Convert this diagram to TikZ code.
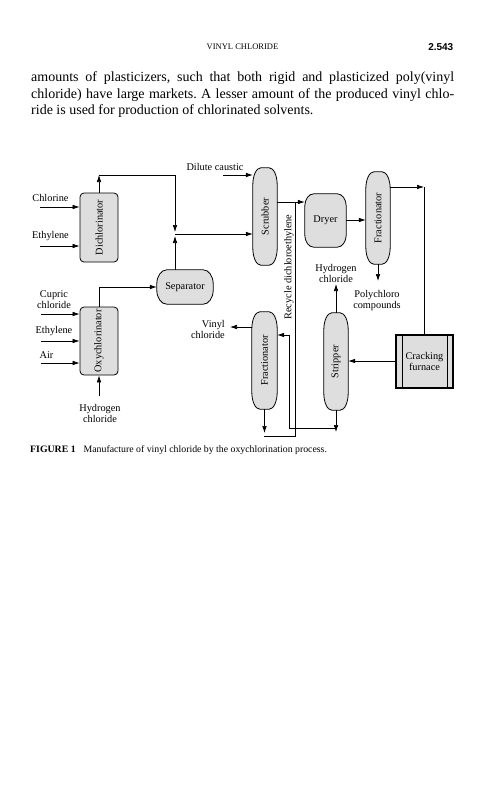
\documentclass[tikz,border=0pt]{standalone}
\usepackage{fontspec}
\setmainfont{Liberation Serif}
\newfontfamily\hsans{Liberation Sans}
\usepackage{graphicx}
\usetikzlibrary{arrows.meta,backgrounds,calc}
\definecolor{unitgray}{RGB}{222,222,222}
\tikzset{
  lbl/.style={font=\fontsize{10.3}{11}\selectfont, inner sep=0pt, align=center},
  arr/.style={-{Latex[length=7pt,width=4.6pt]}},
  flow/.style={line width=0.7pt},
  box/.style={draw, fill=unitgray, line width=0.8pt, rounded corners=4pt, inner sep=0pt, font=\fontsize{10.3}{11}\selectfont},
  vessel/.style={inner sep=0pt, font=\fontsize{10.3}{11}\selectfont, align=center},
  furnace/.style={draw, fill=unitgray, line width=1.3pt, inner sep=0pt, align=center, font=\fontsize{10.3}{11}\selectfont},
}
\newcommand\vesselshape[3]{%
  \filldraw[fill=unitgray, line width=0.8pt] let \p1=(#1.north west), \p2=(#1.south east) in
  (\x1,{\y1-#3}) .. controls (\x1,{\y1-0.45*#3}) and ({\x1+0.45*#2},\y1) .. ({\x1+#2},\y1)
  -- ({\x2-#2},\y1) .. controls ({\x2-0.45*#2},\y1) and (\x2,{\y1-0.45*#3}) .. (\x2,{\y1-#3})
  -- (\x2,{\y2+#3}) .. controls (\x2,{\y2+0.45*#3}) and ({\x2-0.45*#2},\y2) .. ({\x2-#2},\y2)
  -- ({\x1+#2},\y2) .. controls ({\x1+0.45*#2},\y2) and (\x1,{\y2+0.45*#3}) .. (\x1,{\y2+#3}) -- cycle;}
\begin{document}
\begin{tikzpicture}[x=1pt,y=-1pt]
\useasboundingbox (0,0) rectangle (481,800);

% page header and text
\node[font=\fontsize{8.5}{10}\selectfont, inner sep=0pt] (hdr) at (242.5,47) {VINYL CHLORIDE};
\node[font=\hsans\bfseries\fontsize{10}{12}\selectfont, anchor=east, inner sep=0pt] (pg) at (453.5,47) {2.543};
\node[anchor=north west, text width=423pt, align=justify, inner sep=0pt,
      font=\fontsize{14}{16.7}\selectfont] (body) at (31,71.5)
  {\frenchspacing amounts of plasticizers, such that both rigid and plasticized poly(vinyl\linebreak
   chloride) have large markets. A lesser amount of the produced vinyl chlo-\linebreak
   ride is used for production of chlorinated solvents.};

% units
\node[box, minimum width=38pt, minimum height=69pt] (dich) at (99,227.5) {\rotatebox{90}{Dichlorinator}};
\node[box, minimum width=38pt, minimum height=68pt] (oxy) at (99,341) {\rotatebox{90}{Oxychlorinator}};
\node[vessel, minimum width=56pt, minimum height=34pt] (sep) at (185,287) {Separator};
\node[vessel, minimum width=24pt, minimum height=97pt] (scr) at (265,216.5) {\rotatebox{90}{Scrubber}};
\node[vessel, minimum width=41pt, minimum height=53pt] (dry) at (325.5,220.5) {Dryer};
\node[vessel, minimum width=24pt, minimum height=92pt] (fra) at (378,218) {\rotatebox{90}{Fractionator}};
\node[vessel, minimum width=25pt, minimum height=97pt] (frb) at (264.5,360.5) {\rotatebox{90}{Fractionator}};
\node[vessel, minimum width=24pt, minimum height=97pt] (stp) at (336,361.5) {\rotatebox{90}{Stripper}};
\node[furnace, minimum width=57pt, minimum height=53pt] (crk) at (424.5,361.5) {Cracking\\furnace};
\draw[line width=1.3pt] ([xshift=7pt]crk.north west) -- ([xshift=7pt]crk.south west);
\draw[line width=1.3pt] ([xshift=-6pt]crk.north east) -- ([xshift=-6pt]crk.south east);

\begin{pgfonlayer}{background}
\fill[white] (0,0) rectangle (481,800);
\vesselshape{sep}{10pt}{14pt}
\vesselshape{scr}{8pt}{17pt}
\vesselshape{dry}{9pt}{12pt}
\vesselshape{fra}{8pt}{17pt}
\vesselshape{frb}{8pt}{17pt}
\vesselshape{stp}{8pt}{17pt}
\end{pgfonlayer}

% labels
\node[lbl] (lchl) at (50.5,198) {Chlorine};
\node[lbl] (leth1) at (50.5,236.5) {Ethylene};
\node[lbl] (lcup) at (54,300) {Cupric\\chloride};
\node[lbl] (leth2) at (54,331) {Ethylene};
\node[lbl] (lair) at (46.5,355) {Air};
\node[lbl] (lhcl1) at (100,413) {Hydrogen\\chloride};
\node[lbl] (ldil) at (215,167) {Dilute caustic};
\node[lbl, rotate=90] (lrec) at (289,267) {Recycle dichloroethylene};
\node[lbl, align=right, anchor=east] (lvc) at (225,329) {Vinyl\\chloride};
\node[lbl] (lhcl2) at (336,273) {Hydrogen\\chloride};
\node[lbl] (lpoly) at (377,301) {Polychloro\\compounds};
\node[anchor=west, font=\fontsize{9.8}{12}\selectfont, inner sep=0pt] (cap) at (30,450)
  {\textbf{FIGURE 1}\hspace{8pt}Manufacture of vinyl chloride by the oxychlorination process.};

% coordinates
\coordinate (inChl) at (40,207);
\coordinate (inEth1) at (40,246);
\coordinate (inCup) at (41,314);
\coordinate (inEth2) at (41,341);
\coordinate (inAir) at (41,363);
\coordinate (inHcl) at (99,396);
\coordinate (dtop) at (99,175);
\coordinate (dcor) at (175,175);
\coordinate (jdown) at (175,232);
\coordinate (jup) at (175,236);
\coordinate (jn) at (175,234);
\coordinate (otop) at (99,287);
\coordinate (inDil) at (223,175);
\coordinate (rc1) at (295,202);
\coordinate (rc2) at (295,436);
\coordinate (rc3) at (264,436);
\coordinate (vcout) at (230,327);
\coordinate (fbout) at (264.5,433);
\coordinate (sbout) at (336,432);
\coordinate (rt1) at (336,428);
\coordinate (rt2) at (289,428);
\coordinate (rt3) at (289,335);
\coordinate (hclout) at (336,284);
\coordinate (tr) at (424,187);
\coordinate (polyout) at (378,281);

% connectors
\draw[flow,arr] (inChl) -- (inChl -| dich.west);
\draw[flow,arr] (inEth1) -- (inEth1 -| dich.west);
\draw[flow,arr] (dich.north) -- (dtop);
\draw[flow,arr] (dtop) -- (dcor) -- (jdown);
\draw[flow,arr] (jup |- sep.north) -- (jup);
\draw[flow,arr] (jn) -- (jn -| scr.west);
\draw[flow,arr] (inDil) -- (inDil -| scr.west);
\draw[flow,arr] (scr.east |- rc1) -- (dry.west |- rc1);
\draw[flow] (rc1) -- (rc2) -- (rc3);
\draw[flow,arr] (dry.east |- 0,220) -- (fra.west |- 0,220);
\draw[flow,arr] (fra.east |- tr) -- (tr);
\draw[flow] (tr) -- (tr |- crk.north);
\draw[flow,arr] (fra.south) -- (polyout);
\draw[flow,arr] (crk.west |- 0,361) -- (stp.east |- 0,361);
\draw[flow,arr] (stp.north) -- (hclout);
\draw[flow,arr] (stp.south) -- (sbout);
\draw[flow,arr] (rt1) -- (rt2) -- (rt3) -- (rt3 -| frb.east);
\draw[flow,arr] (frb.west |- vcout) -- (vcout);
\draw[flow,arr] (frb.south) -- (fbout);
\draw[flow,arr] (oxy.north) -- (otop) -- (sep.west);
\draw[flow,arr] (inCup) -- (inCup -| oxy.west);
\draw[flow,arr] (inEth2) -- (inEth2 -| oxy.west);
\draw[flow,arr] (inAir) -- (inAir -| oxy.west);
\draw[flow,arr] (inHcl) -- (oxy.south);
\end{tikzpicture}
\end{document}
